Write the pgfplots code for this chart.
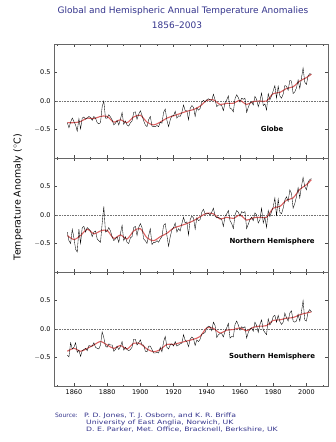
\documentclass[border=0pt]{standalone}
\usepackage{fontspec}
\setmainfont{DejaVu Sans}
\usepackage{graphicx}
\usepackage{pgfplots}
\usepackage{pgfplotstable}
\pgfplotsset{compat=1.18}
\definecolor{ttl}{RGB}{52,52,140}
\definecolor{smoothred}{RGB}{215,70,70}
\pgfplotstableread{
year g n s
1856 -0.38 -0.30 -0.46
1857 -0.47 -0.45 -0.49
1858 -0.37 -0.50 -0.24
1859 -0.30 -0.25 -0.35
1860 -0.36 -0.40 -0.32
1861 -0.42 -0.60 -0.24
1862 -0.53 -0.65 -0.41
1863 -0.31 -0.25 -0.37
1864 -0.49 -0.50 -0.48
1865 -0.30 -0.22 -0.38
1866 -0.28 -0.20 -0.36
1867 -0.32 -0.30 -0.34
1868 -0.30 -0.22 -0.38
1869 -0.27 -0.25 -0.29
1870 -0.29 -0.28 -0.30
1871 -0.34 -0.38 -0.30
1872 -0.27 -0.30 -0.24
1873 -0.30 -0.28 -0.32
1874 -0.38 -0.42 -0.34
1875 -0.40 -0.45 -0.35
1876 -0.38 -0.48 -0.28
1877 -0.10 -0.15 -0.05
1878 0.00 0.15 -0.15
1879 -0.30 -0.30 -0.30
1880 -0.30 -0.28 -0.32
1881 -0.24 -0.22 -0.26
1882 -0.28 -0.28 -0.28
1883 -0.33 -0.38 -0.28
1884 -0.42 -0.45 -0.39
1885 -0.39 -0.42 -0.36
1886 -0.34 -0.38 -0.30
1887 -0.42 -0.48 -0.36
1888 -0.32 -0.33 -0.31
1889 -0.20 -0.18 -0.22
1890 -0.41 -0.45 -0.37
1891 -0.35 -0.38 -0.32
1892 -0.42 -0.48 -0.36
1893 -0.44 -0.50 -0.38
1894 -0.38 -0.40 -0.36
1895 -0.35 -0.38 -0.32
1896 -0.20 -0.22 -0.18
1897 -0.19 -0.20 -0.18
1898 -0.32 -0.36 -0.28
1899 -0.23 -0.22 -0.24
1900 -0.17 -0.15 -0.19
1901 -0.25 -0.22 -0.28
1902 -0.35 -0.42 -0.28
1903 -0.42 -0.45 -0.39
1904 -0.45 -0.50 -0.40
1905 -0.33 -0.36 -0.30
1906 -0.27 -0.24 -0.30
1907 -0.44 -0.52 -0.36
1908 -0.45 -0.48 -0.42
1909 -0.45 -0.48 -0.42
1910 -0.43 -0.45 -0.41
1911 -0.45 -0.48 -0.42
1912 -0.37 -0.42 -0.32
1913 -0.39 -0.38 -0.40
1914 -0.20 -0.18 -0.22
1915 -0.14 -0.15 -0.13
1916 -0.34 -0.36 -0.32
1917 -0.45 -0.55 -0.35
1918 -0.33 -0.38 -0.28
1919 -0.26 -0.26 -0.26
1920 -0.26 -0.22 -0.30
1921 -0.18 -0.14 -0.22
1922 -0.30 -0.30 -0.30
1923 -0.26 -0.24 -0.28
1924 -0.27 -0.28 -0.26
1925 -0.20 -0.15 -0.25
1926 -0.07 -0.04 -0.10
1927 -0.17 -0.14 -0.20
1928 -0.17 -0.12 -0.22
1929 -0.33 -0.35 -0.31
1930 -0.13 -0.08 -0.18
1931 -0.08 -0.02 -0.14
1932 -0.11 -0.05 -0.17
1933 -0.27 -0.25 -0.29
1934 -0.12 -0.05 -0.19
1935 -0.16 -0.10 -0.22
1936 -0.13 -0.08 -0.18
1937 -0.02 0.05 -0.09
1938 0.01 0.10 -0.08
1939 -0.02 0.02 -0.06
1940 0.02 0.02 0.02
1941 0.04 0.03 0.05
1942 0.02 0.00 0.04
1943 0.01 0.05 -0.03
1944 0.12 0.12 0.12
1945 0.02 -0.02 0.06
1946 -0.10 -0.05 -0.15
1947 -0.07 -0.04 -0.10
1948 -0.07 -0.06 -0.08
1949 -0.08 -0.08 -0.08
1950 -0.17 -0.20 -0.14
1951 -0.03 -0.02 -0.04
1952 0.02 0.02 0.02
1953 0.09 0.08 0.10
1954 -0.13 -0.10 -0.16
1955 -0.14 -0.15 -0.13
1956 -0.19 -0.24 -0.14
1957 0.04 0.00 0.08
1958 0.11 0.08 0.14
1959 0.06 0.05 0.07
1960 -0.02 -0.02 -0.02
1961 0.05 0.06 0.04
1962 0.03 0.04 0.02
1963 0.05 0.06 0.04
1964 -0.20 -0.24 -0.16
1965 -0.11 -0.16 -0.06
1966 -0.04 -0.08 0.00
1967 -0.01 -0.04 0.02
1968 -0.07 -0.10 -0.04
1969 0.08 0.04 0.12
1970 0.03 0.00 0.06
1971 -0.10 -0.14 -0.06
1972 0.00 -0.08 0.08
1973 0.14 0.12 0.16
1974 -0.08 -0.14 -0.02
1975 -0.05 -0.04 -0.06
1976 -0.16 -0.22 -0.10
1977 0.13 0.08 0.18
1978 0.02 -0.03 0.07
1979 0.09 0.06 0.12
1980 0.18 0.14 0.22
1981 0.27 0.30 0.24
1982 0.05 -0.02 0.12
1983 0.26 0.28 0.24
1984 0.09 0.05 0.13
1985 0.05 0.02 0.08
1986 0.12 0.12 0.12
1987 0.27 0.26 0.28
1988 0.26 0.32 0.20
1989 0.19 0.24 0.14
1990 0.36 0.44 0.28
1991 0.35 0.38 0.32
1992 0.13 0.12 0.14
1993 0.16 0.20 0.12
1994 0.23 0.32 0.14
1995 0.37 0.48 0.26
1996 0.22 0.30 0.14
1997 0.40 0.50 0.30
1998 0.58 0.66 0.50
1999 0.33 0.50 0.16
2000 0.29 0.44 0.14
2001 0.44 0.58 0.30
2002 0.48 0.62 0.34
2003 0.47 0.64 0.30
}\annual
\pgfplotstableread{
year g n s
1856 -0.38 -0.36 -0.39
1860 -0.38 -0.43 -0.34
1864 -0.36 -0.36 -0.39
1868 -0.30 -0.25 -0.34
1872 -0.31 -0.33 -0.28
1876 -0.27 -0.28 -0.22
1880 -0.27 -0.27 -0.28
1884 -0.37 -0.41 -0.34
1888 -0.33 -0.35 -0.29
1892 -0.38 -0.42 -0.35
1896 -0.28 -0.28 -0.25
1900 -0.25 -0.24 -0.26
1904 -0.37 -0.40 -0.35
1908 -0.42 -0.45 -0.40
1912 -0.37 -0.38 -0.36
1916 -0.30 -0.32 -0.27
1920 -0.26 -0.23 -0.27
1924 -0.22 -0.19 -0.24
1928 -0.18 -0.15 -0.21
1932 -0.15 -0.10 -0.18
1936 -0.09 -0.03 -0.13
1940 0.01 0.03 0.02
1944 0.02 0.02 0.01
1948 -0.06 -0.07 -0.07
1952 -0.04 -0.04 -0.02
1956 -0.04 -0.06 -0.01
1960 0.01 0.00 0.02
1964 -0.06 -0.09 -0.03
1968 -0.01 -0.05 0.03
1972 0.00 -0.04 0.05
1976 0.00 -0.04 0.06
1980 0.13 0.12 0.15
1984 0.15 0.15 0.16
1988 0.22 0.26 0.19
1992 0.25 0.30 0.20
1996 0.35 0.45 0.25
2000 0.41 0.53 0.28
2003 0.47 0.62 0.30
}\smoothed
\pgfplotsset{
  panel/.style={
    scale only axis, width=274bp, height=114bp,
    anchor=north west,
    xmin=1848, xmax=2013, ymin=-1, ymax=1,
    xtick={1860,1880,1900,1920,1940,1960,1980,2000},
    minor xtick={1850,1870,1890,1910,1930,1950,1970,1990,2010},
    ytick={-0.5,0,0.5},
    yticklabels={$-$0.5,0.0,0.5},
    tick align=inside, tick pos=both,
    major tick length=3bp, minor tick length=1.5bp,
    every tick/.style={black!70, line width=0.5pt},
    axis line style={black!60, line width=0.6pt},
    ticklabel style={font=\fontsize{6.5}{7}\selectfont},
    /pgf/number format/assume math mode=true,
    clip=true,
  },
  annualline/.style={black, line width=0.35pt},
  smoothline/.style={smoothred, line width=1.1pt, smooth, opacity=0.85},
  zeroline/.style={black!55, densely dotted, line width=0.6pt},
}
\newcommand{\src}[1]{\scalebox{1.3}[1]{\fontsize{6}{7}\selectfont #1}}
\begin{document}
\begin{tikzpicture}
\useasboundingbox (0bp,0bp) rectangle (336bp,-442bp);
% Titles
\node[text=ttl, font=\fontsize{9}{10}\selectfont] at (183bp,-11bp) {Global and Hemispheric Annual Temperature Anomalies};
\node[text=ttl, font=\fontsize{9}{10}\selectfont] at (177bp,-25bp) {1856--2003};
% Y label
\node[rotate=90, font=\fontsize{9.5}{10}\selectfont] at (18bp,-197bp) {Temperature Anomaly ($^{\circ}$C)};
% Panel 1
\begin{axis}[panel, at={(54bp,-44bp)}, xticklabels={}]
\addplot[zeroline] coordinates {(1848,0) (2013,0)};
\addplot[smoothline] table[x=year,y=g] {\smoothed};
\addplot[annualline] table[x=year,y=g] {\annual};
\node[font=\fontsize{7}{8}\selectfont\bfseries] at (rel axis cs:0.796,0.254) {Globe};
\end{axis}
% Panel 2
\begin{axis}[panel, at={(54bp,-158bp)}, xticklabels={}]
\addplot[zeroline] coordinates {(1848,0) (2013,0)};
\addplot[smoothline] table[x=year,y=n] {\smoothed};
\addplot[annualline] table[x=year,y=n] {\annual};
\node[font=\fontsize{7}{8}\selectfont\bfseries] at (rel axis cs:0.796,0.263) {Northern Hemisphere};
\end{axis}
% Panel 3
\begin{axis}[panel, at={(54bp,-272bp)}, xticklabels={1860,1880,1900,1920,1940,1960,1980,2000}]
\addplot[zeroline] coordinates {(1848,0) (2013,0)};
\addplot[smoothline] table[x=year,y=s] {\smoothed};
\addplot[annualline] table[x=year,y=s] {\annual};
\node[font=\fontsize{7}{8}\selectfont\bfseries] at (rel axis cs:0.796,0.254) {Southern Hemisphere};
\end{axis}
% Source
\node[anchor=base west, text=ttl, inner sep=0pt, font=\fontsize{6}{7}\selectfont] at (55bp,-417bp) {Source:};
\node[anchor=base west, text=ttl, inner sep=0pt] at (84bp,-417bp) {\src{P. D. Jones, T. J. Osborn, and K. R. Briffa}};
\node[anchor=base west, text=ttl, inner sep=0pt] at (86bp,-424bp) {\src{University of East Anglia, Norwich, UK}};
\node[anchor=base west, text=ttl, inner sep=0pt] at (86bp,-431bp) {\src{D. E. Parker, Met. Office, Bracknell, Berkshire, UK}};
\end{tikzpicture}
\end{document}
